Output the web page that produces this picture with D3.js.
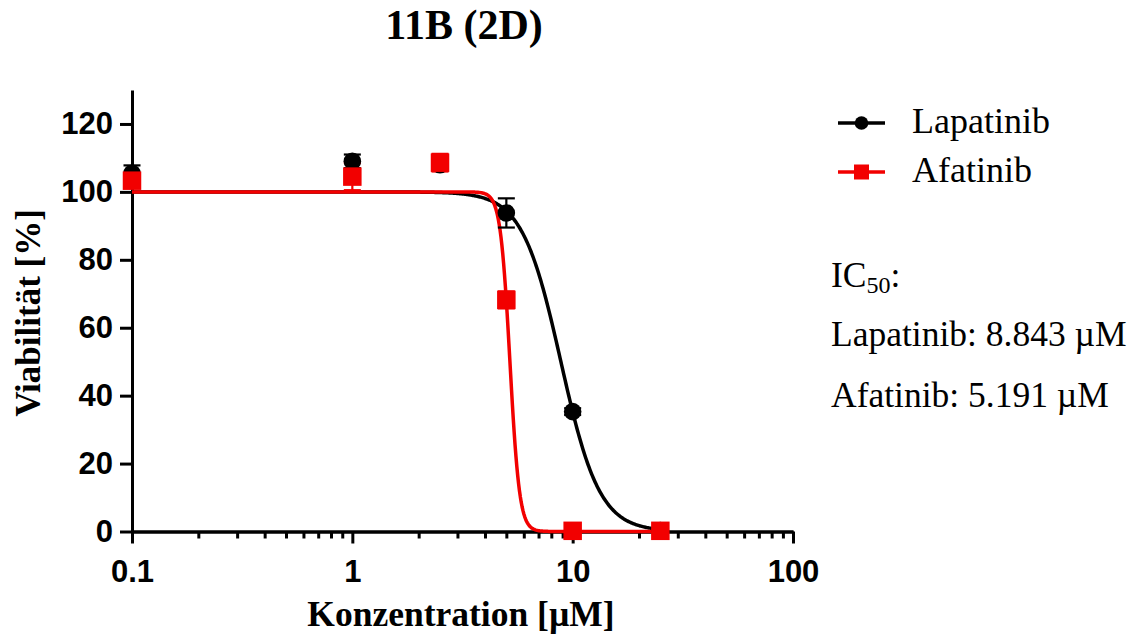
<!DOCTYPE html>
<html>
<head>
<meta charset="utf-8">
<script src="https://cdn.jsdelivr.net/npm/d3@7"></script>
<style>
  html, body { margin: 0; padding: 0; background: #fff; }
  svg { display: block; }
</style>
</head>
<body>
<svg id="chart" width="1137" height="639"></svg>
<script>
// ---------------- data ----------------
const concentrations = [0.1, 1, 2.5, 5, 10, 25];
const lapatinibMean = [105.5, 109.0, 108.0, 93.8, 35.3, 0.3];
const lapatinibErr  = [2.3, 2.0, 1.5, 4.3, 1.0, 0.5];
const afatinibMean  = [103.3, 104.5, 108.6, 68.2, 0.2, 0.2];
const afatinibErr   = [2.0, 4.0, 2.6, 2.5, 0.5, 0.5];

const seriesNames = ["Lapatinib", "Afatinib"];
const seriesColors = ["#000000", "#f20000"];
// four-parameter logistic fit parameters (top, bottom, IC50, Hill slope)
const fitTop = [100, 100];
const fitBottom = [0, 0];
const fitIC50 = [8.843, 5.191];
const fitHill = [4.95, 20];
const fitRange = [0.1, 25];

const xMajorTicks = [0.1, 1, 10, 100];
const xMinorTicks = [0.2,0.3,0.4,0.5,0.6,0.7,0.8,0.9, 2,3,4,5,6,7,8,9, 20,30,40,50,60,70,80,90];
const xTickLabels = ["0.1", "1", "10", "100"];
const yTicks = [0, 20, 40, 60, 80, 100, 120];

const titleText = "11B (2D)";
const xLabel = "Konzentration [\u00B5M]";
const yLabel = "Viabilit\u00E4t [%]";
const ic50Lines = ["Lapatinib: 8.843 \u00B5M", "Afatinib: 5.191 \u00B5M"];

// ---------------- layout ----------------
const svg = d3.select("#chart");
const serif = "'Liberation Serif','Times New Roman',Times,serif";
const sans = "'Liberation Sans',Arial,Helvetica,sans-serif";

const x = d3.scaleLog().domain([0.1, 100]).range([132, 793]);
const y = d3.scaleLinear().domain([0, 130]).range([531.5, 90]);

// ---------------- axes ----------------
const xAxisMinor = d3.axisBottom(x).tickValues(xMinorTicks).tickSize(7).tickSizeOuter(0).tickFormat("");
const xAxisMajor = d3.axisBottom(x).tickValues(xMajorTicks).tickSize(12).tickSizeOuter(0)
  .tickPadding(16).tickFormat((d, i) => xTickLabels[i]);

const gxMinor = svg.append("g").attr("transform", `translate(0,${y(0)})`).call(xAxisMinor);
const gx = svg.append("g").attr("transform", `translate(0,${y(0)})`).call(xAxisMajor);
[gxMinor, gx].forEach(g => {
  g.select(".domain").attr("stroke", "#000").attr("stroke-width", 3);
  g.selectAll(".tick line").attr("stroke", "#000").attr("stroke-width", 3);
});
gx.selectAll(".tick text").attr("font-family", sans).attr("font-weight", "bold")
  .attr("font-size", 31).attr("fill", "#000");

const yAxis = d3.axisLeft(y).tickValues(yTicks).tickSize(12).tickSizeOuter(0).tickPadding(7);
const gy = svg.append("g").attr("transform", `translate(${x(0.1)},0)`).call(yAxis);
gy.select(".domain").attr("stroke", "#000").attr("stroke-width", 3);
gy.selectAll(".tick line").attr("stroke", "#000").attr("stroke-width", 3);
gy.selectAll(".tick text").attr("font-family", sans).attr("font-weight", "bold")
  .attr("font-size", 31).attr("fill", "#000");

// ---------------- fit curves ----------------
function logistic(c, s) {
  return fitBottom[s] + (fitTop[s] - fitBottom[s]) / (1 + Math.pow(c / fitIC50[s], fitHill[s]));
}
const line = d3.line().x(d => x(d[0])).y(d => y(d[1]));
const logMin = Math.log10(fitRange[0]), logMax = Math.log10(fitRange[1]);
[0, 1].forEach(s => {
  const pts = d3.range(0, 601).map(i => {
    const c = Math.pow(10, logMin + (logMax - logMin) * i / 600);
    return [c, logistic(c, s)];
  });
  svg.append("path").datum(pts).attr("d", line)
    .attr("fill", "none").attr("stroke", seriesColors[s]).attr("stroke-width", 3.5)
    .attr("stroke-linejoin", "round");
});

// ---------------- error bars & markers ----------------
const data = [
  concentrations.map((c, i) => ({c, m: lapatinibMean[i], e: lapatinibErr[i]})),
  concentrations.map((c, i) => ({c, m: afatinibMean[i], e: afatinibErr[i]}))
];
function errorBars(s) {
  const g = svg.append("g").attr("stroke", seriesColors[s]).attr("stroke-width", 2.2);
  data[s].forEach(d => {
    g.append("line").attr("x1", x(d.c)).attr("x2", x(d.c)).attr("y1", y(d.m - d.e)).attr("y2", y(d.m + d.e));
    [d.m - d.e, d.m + d.e].forEach(v => {
      g.append("line").attr("x1", x(d.c) - 8.5).attr("x2", x(d.c) + 8.5).attr("y1", y(v)).attr("y2", y(v));
    });
  });
}
errorBars(1);
errorBars(0);
svg.append("g").selectAll("circle").data(data[0]).join("circle")
  .attr("cx", d => x(d.c)).attr("cy", d => y(d.m)).attr("r", 8.8).attr("fill", seriesColors[0]);
svg.append("g").selectAll("rect").data(data[1]).join("rect")
  .attr("x", d => x(d.c) - 9.25).attr("y", d => y(d.m) - 9.25).attr("width", 18.5).attr("height", 18.5)
  .attr("fill", seriesColors[1]);

// ---------------- titles ----------------
svg.append("text").attr("x", 464).attr("y", 39).attr("text-anchor", "middle")
  .attr("font-family", serif).attr("font-weight", "bold").attr("font-size", 42).text(titleText);
svg.append("text").attr("x", 461).attr("y", 626).attr("text-anchor", "middle")
  .attr("font-family", serif).attr("font-weight", "bold").attr("font-size", 35.5).text(xLabel);
svg.append("text").attr("transform", "translate(40,313) rotate(-90)").attr("text-anchor", "middle")
  .attr("font-family", serif).attr("font-weight", "bold").attr("font-size", 35).text(yLabel);

// ---------------- legend ----------------
const legendY = [123, 172];
seriesNames.forEach((name, s) => {
  const g = svg.append("g");
  g.append("line").attr("x1", 838).attr("x2", 885).attr("y1", legendY[s]).attr("y2", legendY[s])
    .attr("stroke", seriesColors[s]).attr("stroke-width", 3.5);
  if (s === 0) {
    g.append("circle").attr("cx", 861.5).attr("cy", legendY[s]).attr("r", 6.8).attr("fill", seriesColors[s]);
  } else {
    g.append("rect").attr("x", 854).attr("y", legendY[s] - 7.5).attr("width", 15).attr("height", 15).attr("fill", seriesColors[s]);
  }
  g.append("text").attr("x", 912).attr("y", legendY[s] + 10).attr("font-family", serif)
    .attr("font-size", 36).text(name);
});

// ---------------- IC50 annotation ----------------
const ic = svg.append("text").attr("x", 831).attr("y", 287).attr("font-family", serif).attr("font-size", 35.5);
ic.append("tspan").text("IC");
ic.append("tspan").attr("font-size", 24).attr("dy", 6).text("50");
ic.append("tspan").attr("dy", -6).text(":");
ic50Lines.forEach((t, i) => {
  svg.append("text").attr("x", 831).attr("y", 346 + i * 61).attr("font-family", serif)
    .attr("font-size", 35.5).text(t);
});
</script>
</body>
</html>
